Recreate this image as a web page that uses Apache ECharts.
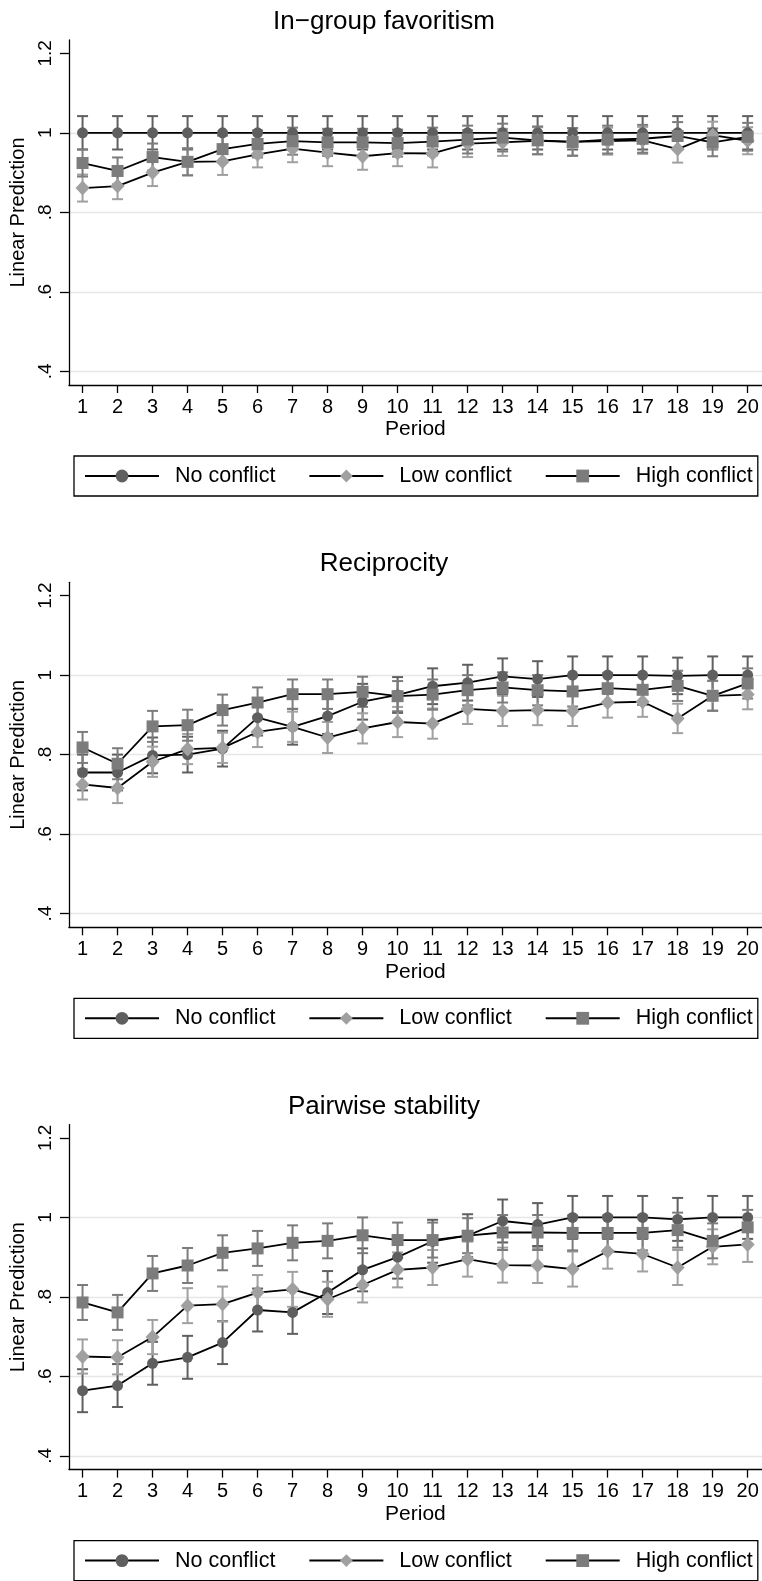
<!DOCTYPE html>
<html>
<head>
<meta charset="utf-8">
<script src="https://cdn.jsdelivr.net/npm/echarts@6/dist/echarts.min.js"></script>
<style>
html, body { margin: 0; padding: 0; background: #fff; }
#chart { width: 762px; height: 1581px; }
</style>
</head>
<body>
<div id="chart"></div>
<script>
var periods = [1, 2, 3, 4, 5, 6, 7, 8, 9, 10, 11, 12, 13, 14, 15, 16, 17, 18, 19, 20];
var panelTitles = ['In\u2212group favoritism', 'Reciprocity', 'Pairwise stability'];
var groupNames = ['No conflict', 'Low conflict', 'High conflict'];
var yTicks = [0.4, 0.6, 0.8, 1, 1.2];
var yTickLabels = ['.4', '.6', '.8', '1', '1.2'];

// In-group favoritism
var favNo = [1, 1, 1, 1, 1, 1, 1, 1, 1, 1, 1, 1, 1, 1, 1, 1, 1, 1, 1, 1];
var favNoErr = [0.042, 0.042, 0.042, 0.042, 0.042, 0.042, 0.042, 0.042, 0.042, 0.042, 0.042, 0.042, 0.042, 0.042, 0.042, 0.042, 0.042, 0.042, 0.042, 0.042];
var favLow = [0.861, 0.866, 0.900, 0.927, 0.928, 0.946, 0.960, 0.950, 0.941, 0.949, 0.948, 0.973, 0.976, 0.980, 0.977, 0.979, 0.981, 0.959, 0.994, 0.980];
var favLowErr = [0.034, 0.033, 0.034, 0.034, 0.034, 0.033, 0.034, 0.034, 0.034, 0.033, 0.035, 0.034, 0.034, 0.034, 0.034, 0.034, 0.034, 0.034, 0.034, 0.034];
var favHigh = [0.924, 0.904, 0.939, 0.927, 0.959, 0.972, 0.979, 0.976, 0.976, 0.974, 0.978, 0.983, 0.988, 0.981, 0.977, 0.983, 0.985, 0.992, 0.976, 0.990];
var favHighErr = [0.034, 0.034, 0.034, 0.034, 0.034, 0.034, 0.034, 0.034, 0.034, 0.034, 0.035, 0.035, 0.035, 0.035, 0.035, 0.035, 0.035, 0.035, 0.035, 0.035];

// Reciprocity
var recNo = [0.755, 0.755, 0.798, 0.800, 0.815, 0.893, 0.870, 0.897, 0.933, 0.950, 0.972, 0.981, 0.997, 0.990, 1.000, 1.000, 1.000, 0.998, 1.000, 1.000];
var recNoErr = [0.045, 0.045, 0.045, 0.045, 0.045, 0.045, 0.045, 0.045, 0.045, 0.045, 0.045, 0.045, 0.045, 0.045, 0.047, 0.047, 0.047, 0.046, 0.047, 0.047];
var recLow = [0.725, 0.716, 0.782, 0.814, 0.817, 0.857, 0.870, 0.843, 0.866, 0.882, 0.878, 0.915, 0.910, 0.912, 0.910, 0.931, 0.933, 0.891, 0.948, 0.951];
var recLowErr = [0.038, 0.038, 0.038, 0.038, 0.038, 0.038, 0.038, 0.039, 0.038, 0.038, 0.038, 0.038, 0.038, 0.038, 0.038, 0.038, 0.038, 0.037, 0.037, 0.037];
var recHigh = [0.818, 0.777, 0.871, 0.874, 0.912, 0.931, 0.952, 0.952, 0.958, 0.947, 0.951, 0.962, 0.969, 0.962, 0.959, 0.967, 0.963, 0.973, 0.948, 0.979];
var recHighErr = [0.039, 0.039, 0.039, 0.039, 0.039, 0.038, 0.037, 0.037, 0.038, 0.038, 0.038, 0.038, 0.038, 0.038, 0.038, 0.038, 0.038, 0.038, 0.038, 0.038];

// Pairwise stability
var stbNo = [0.564, 0.577, 0.633, 0.648, 0.685, 0.767, 0.761, 0.811, 0.868, 0.900, 0.940, 0.954, 0.991, 0.982, 1.000, 1.000, 1.000, 0.995, 1.000, 1.000];
var stbNoErr = [0.054, 0.054, 0.054, 0.054, 0.054, 0.054, 0.054, 0.054, 0.054, 0.054, 0.054, 0.054, 0.054, 0.054, 0.054, 0.054, 0.054, 0.054, 0.054, 0.054];
var stbLow = [0.650, 0.648, 0.699, 0.778, 0.782, 0.811, 0.819, 0.794, 0.830, 0.868, 0.874, 0.895, 0.880, 0.879, 0.870, 0.915, 0.908, 0.874, 0.926, 0.932];
var stbLowErr = [0.043, 0.043, 0.043, 0.044, 0.044, 0.044, 0.044, 0.044, 0.044, 0.044, 0.044, 0.044, 0.044, 0.044, 0.044, 0.044, 0.044, 0.044, 0.044, 0.044];
var stbHigh = [0.786, 0.761, 0.859, 0.879, 0.911, 0.922, 0.936, 0.941, 0.955, 0.943, 0.943, 0.954, 0.962, 0.962, 0.961, 0.961, 0.961, 0.968, 0.941, 0.975];
var stbHighErr = [0.044, 0.044, 0.044, 0.044, 0.044, 0.044, 0.044, 0.044, 0.045, 0.044, 0.044, 0.044, 0.044, 0.044, 0.044, 0.044, 0.044, 0.044, 0.044, 0.044];

var panels = [
    [[favNo, favNoErr], [favLow, favLowErr], [favHigh, favHighErr]],
    [[recNo, recNoErr], [recLow, recLowErr], [recHigh, recHighErr]],
    [[stbNo, stbNoErr], [stbLow, stbLowErr], [stbHigh, stbHighErr]]
];

var groupColors = ['#5f5f5f', '#a0a0a0', '#7c7c7c'];
var groupSymbols = ['circle', 'diamond', 'rect'];
var groupSizes = [11, [14, 15], 12];
var font = 'Liberation Sans, Arial, Helvetica, sans-serif';
var panelStep = 542.3;

function renderErrorBar(params, api) {
    var x = api.value(0);
    var lo = api.coord([x, api.value(1)]);
    var hi = api.coord([x, api.value(2)]);
    var w = 5.5;
    var style = { stroke: api.visual('color'), lineWidth: 2 };
    return {
        type: 'group',
        children: [
            { type: 'line', shape: { x1: lo[0], y1: lo[1], x2: hi[0], y2: hi[1] }, style: style },
            { type: 'line', shape: { x1: lo[0] - w, y1: lo[1], x2: lo[0] + w, y2: lo[1] }, style: style },
            { type: 'line', shape: { x1: hi[0] - w, y1: hi[1], x2: hi[0] + w, y2: hi[1] }, style: style }
        ]
    };
}

function yLabel(v) {
    for (var k = 0; k < yTicks.length; k++) {
        if (Math.abs(yTicks[k] - v) < 1e-6) return yTickLabels[k];
    }
    return '';
}

var grids = [], xAxes = [], yAxes = [], titles = [], legends = [], series = [];

panels.forEach(function (panel, i) {
    var dy = panelStep * i;
    grids.push({ left: 66.7, right: 0, top: 40 + dy, height: 345 });
    titles.push({
        text: panelTitles[i], left: 384, top: 9 + dy, padding: 0, textAlign: 'center',
        textStyle: { fontSize: 26, fontWeight: 'normal', color: '#000', fontFamily: font }
    });
    xAxes.push({
        gridIndex: i, type: 'value', min: 0.61, max: 20.41,
        name: 'Period', nameLocation: 'middle', nameGap: 34,
        nameTextStyle: { fontSize: 21, color: '#000', fontFamily: font },
        axisLine: { onZero: false, lineStyle: { color: '#000', width: 1.3 } },
        axisTick: { customValues: periods, length: 8, lineStyle: { color: '#000', width: 1.3 } },
        axisLabel: { customValues: periods, margin: 12, fontSize: 20, color: '#000', fontFamily: font },
        splitLine: { show: false }
    });
    yAxes.push({
        gridIndex: i, type: 'value', min: 0.3655, max: 1.2335,
        name: 'Linear Prediction', nameLocation: 'middle', nameGap: 32, nameRotate: 90,
        nameTextStyle: { fontSize: 20, color: '#000', fontFamily: font },
        axisLine: { show: true, onZero: false, lineStyle: { color: '#000', width: 1.3 } },
        axisTick: { show: true, customValues: yTicks, length: 9, lineStyle: { color: '#000', width: 1.3 } },
        axisLabel: { customValues: yTicks, rotate: 90, margin: 14, fontSize: 19, color: '#000', fontFamily: font, formatter: yLabel },
        splitLine: { show: true, lineStyle: { color: ['#e6e6e6', '#e6e6e6', '#e6e6e6', '#e6e6e6', 'rgba(0,0,0,0)'], width: 1.3 } }
    });
    legends.push({
        left: 74, top: 456 + dy, orient: 'horizontal', data: groupNames, selectedMode: false,
        itemWidth: 74, itemHeight: 16, itemGap: 33, padding: [9, 5, 9, 10],
        borderColor: '#000', borderWidth: 1.3,
        textStyle: { fontSize: 21.5, color: '#000', fontFamily: font, padding: [0, 0, 0, 11] }
    });
    panel.forEach(function (grp, g) {
        var vals = grp[0], errs = grp[1];
        series.push({
            name: groupNames[g] + ' CI', type: 'custom', xAxisIndex: i, yAxisIndex: i, z: 2,
            itemStyle: { color: groupColors[g] },
            renderItem: renderErrorBar,
            encode: { x: 0, y: [1, 2] },
            data: periods.map(function (p, k) { return [p, vals[k] - errs[k], vals[k] + errs[k]]; })
        });
    });
    panel.forEach(function (grp, g) {
        var vals = grp[0];
        series.push({
            name: groupNames[g], type: 'line', xAxisIndex: i, yAxisIndex: i, z: 3,
            symbol: groupSymbols[g], symbolSize: groupSizes[g], showAllSymbol: true,
            lineStyle: { color: '#000', width: 1.8 },
            itemStyle: { color: groupColors[g], opacity: 1 },
            emphasis: { disabled: true },
            data: periods.map(function (p, k) { return [p, vals[k]]; })
        });
    });
});

var myChart = echarts.init(document.getElementById('chart'));
myChart.setOption({
    animation: false,
    backgroundColor: '#fff',
    title: titles,
    legend: legends,
    grid: grids,
    xAxis: xAxes,
    yAxis: yAxes,
    series: series
});
</script>
</body>
</html>
